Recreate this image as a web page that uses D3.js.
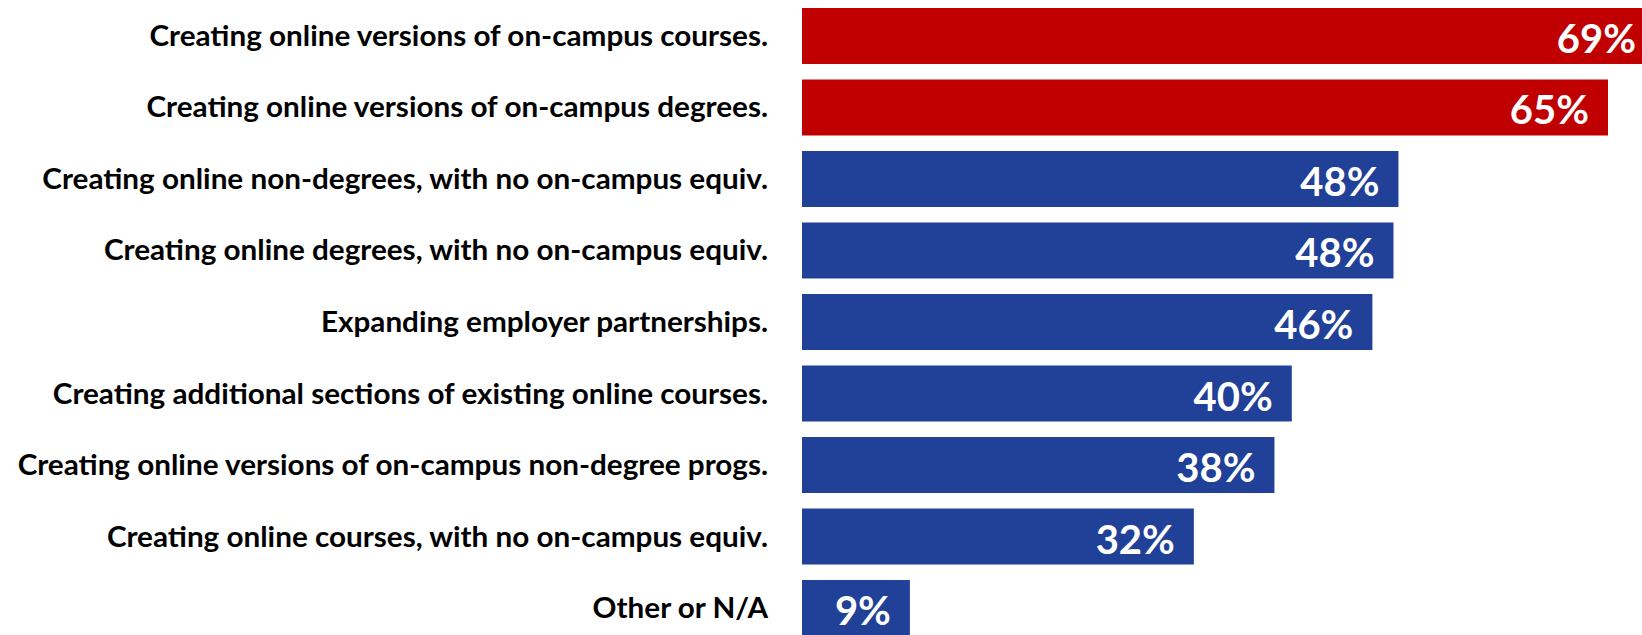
<!DOCTYPE html>
<html>
<head>
<meta charset="utf-8">
<script src="https://cdn.jsdelivr.net/npm/d3@7"></script>
<style>
  html, body { margin: 0; padding: 0; background: #fff; overflow: hidden; }
  svg { display: block; }
</style>
</head>
<body>
<svg id="chart" width="1642" height="635"></svg>
<script>
// Strategies, top to bottom
const categories = [
  "Creating online versions of on-campus courses.",
  "Creating online versions of on-campus degrees.",
  "Creating online non-degrees, with no on-campus equiv.",
  "Creating online degrees, with no on-campus equiv.",
  "Expanding employer partnerships.",
  "Creating additional sections of existing online courses.",
  "Creating online versions of on-campus non-degree progs.",
  "Creating online courses, with no on-campus equiv.",
  "Other or N/A"
];
// Share of respondents (%)
const values = [69, 65, 48.1, 47.7, 46, 39.5, 38.1, 31.6, 8.7];
// The two leading strategies are highlighted
const highlighted = [true, true, false, false, false, false, false, false, false];

const RED = "#C00000", BLUE = "#214098";
const labelFont = "Lato, 'Open Sans', sans-serif";
const W = 1642;

const svg = d3.select("#chart");

const x = d3.scaleLinear().domain([0, 100]).range([802, 802 + 1240]);
const y = d3.scaleBand().domain(categories).range([8, 636]).paddingInner(0.217).paddingOuter(0);

const rows = svg.selectAll("g.row")
  .data(categories.map((c, i) => ({ c, v: values[i], hi: highlighted[i] })))
  .join("g").attr("class", "row");

rows.append("rect")
  .attr("x", x(0))
  .attr("y", d => y(d.c))
  .attr("width", d => x(d.v) - x(0))
  .attr("height", y.bandwidth())
  .attr("fill", d => d.hi ? RED : BLUE);

// Value labels sit inside the bar end, kept within the visible area
rows.append("text")
  .attr("class", "val")
  .attr("x", d => Math.min(x(d.v) - 19, W - 6))
  .attr("y", d => y(d.c) + y.bandwidth() / 2 + 17)
  .attr("text-anchor", "end")
  .attr("fill", "#fff")
  .attr("font-family", labelFont)
  .attr("font-weight", 700)
  .attr("font-size", 40)
  .text(d => d3.format(".0f")(d.v) + "%");

// Category labels, right-aligned against the bars; condensed horizontally
const cat = svg.append("g").attr("class", "cats");
const catText = cat.selectAll("text")
  .data(categories)
  .join("text")
  .attr("text-anchor", "end")
  .attr("fill", "#000")
  .attr("font-family", labelFont)
  .attr("font-weight", 700)
  .attr("font-size", 28.5)
  .text(d => d);

const anchorX = 768;
const first = catText.node().getComputedTextLength();
const sx = 619 / first;
catText.attr("transform", d => `translate(${anchorX},${y(d) + y.bandwidth() / 2 + 10}) scale(${sx},1)`);
</script>
</body>
</html>
